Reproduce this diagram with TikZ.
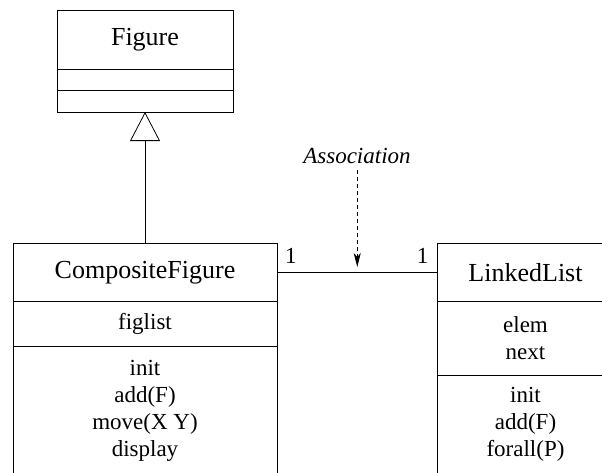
\documentclass[tikz,border=0pt]{standalone}
\usepackage{fontspec}
\setmainfont{Liberation Serif}
\newfontfamily\clsserif{Liberation Serif}
\usepackage{tikz}
\usetikzlibrary{arrows.meta,positioning,calc}
\newcommand\clsnamefont{\clsserif\fontsize{26}{31}\selectfont}
\newcommand\clsmemberfont{\clsserif\fontsize{23}{27}\selectfont}

\begin{document}
\begin{tikzpicture}[x=1pt,y=-1pt,
    part/.style={draw,line width=0.8pt,inner sep=0pt,outer sep=0pt,align=center,font=\clsmemberfont},
    namepart/.style={part,font=\clsnamefont},
    inherit/.style={line width=0.8pt,-{Triangle[open,length=29pt,width=30pt]}},
    assocline/.style={line width=0.8pt},
    notearrow/.style={line width=0.8pt,dash pattern=on 4pt off 3pt,-{Stealth[length=14pt,width=7pt,inset=4pt]},shorten <=5pt,shorten >=5.5pt}]
  \useasboundingbox (0,0) rectangle (602,472);
  \clip (0,0) rectangle (602,472);
  % superclass
  \node[namepart,minimum width=176pt,minimum height=59pt] (figname) at (145,39.5) {Figure};
  \node[part,minimum width=176pt,minimum height=21.5pt,below=0pt of figname] (figattr) {};
  \node[part,minimum width=176pt,minimum height=21.5pt,below=0pt of figattr] (figops) {};
  % composite class
  \node[namepart,minimum width=264pt,minimum height=58pt] (cfname) at (145,272.5) {CompositeFigure};
  \node[part,minimum width=264pt,minimum height=45pt,below=0pt of cfname] (cfattr) {figlist};
  \node[part,minimum width=264pt,minimum height=128pt,below=0pt of cfattr] (cfops)
    {init\\add(F)\\move(X Y)\\display};
  % list class
  \node[namepart,minimum width=176pt,minimum height=58pt] (llname) at (525.5,272.5) {LinkedList};
  \node[part,minimum width=176pt,minimum height=74pt,below=0pt of llname] (llattr) {elem\\next};
  \node[part,minimum width=176pt,minimum height=98pt,below=0pt of llattr] (llops)
    {init\\add(F)\\forall(P)};
  % generalization
  \draw[inherit] (cfname) -- (figops);
  % association with multiplicities
  \draw[assocline] (cfname.east) -- (llname.west);
  \node[font=\clsmemberfont,anchor=base west,inner sep=0pt] (multl) at ([shift={(8,-9)}]cfname.east) {1};
  \node[font=\clsmemberfont,anchor=base east,inner sep=0pt] (multr) at ([shift={(-9,-9)}]llname.west) {1};
  \coordinate (assocpt) at ($(cfname.east)!0.5!(llname.west)$);
  \node[font=\clsmemberfont\itshape,anchor=base,inner sep=2pt] (assoclbl) at (357,163) {Association};
  \draw[notearrow] (assoclbl.south -| assocpt) -- (assocpt);
\end{tikzpicture}
\end{document}
